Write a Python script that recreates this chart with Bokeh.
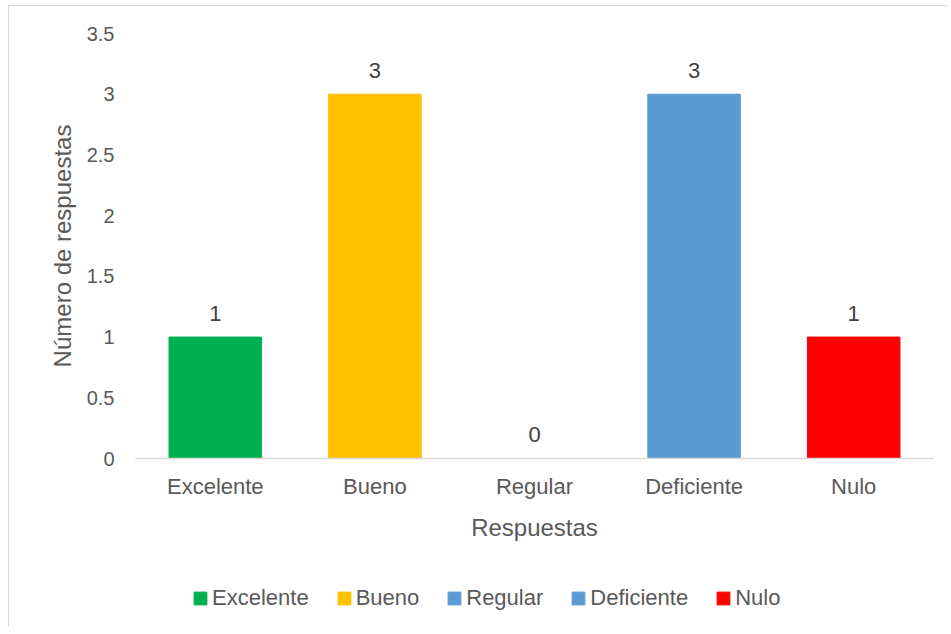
from bokeh.plotting import figure
from bokeh.models import ColumnDataSource, Legend, LegendItem, FactorRange, Range1d
from bokeh.layouts import column
from bokeh.core.properties import value
from bokeh.embed import file_html
from bokeh.resources import INLINE

categories = ["Excelente", "Bueno", "Regular", "Deficiente", "Nulo"]
counts = [1, 3, 0, 3, 1]
colors = ["#00B050", "#FFC000", "#5B9BD5", "#5B9BD5", "#FF0000"]
y_ticks = [0, 0.5, 1, 1.5, 2, 2.5, 3, 3.5]

FONT = "Liberation Sans"
TXT = "#595959"

src = ColumnDataSource(dict(cat=categories, val=counts, color=colors,
                            lab=[str(v) for v in counts]))

xr = FactorRange(*categories, range_padding=0)
p = figure(x_range=xr, y_range=(0, 3.5),
           width=938, height=560, output_backend="svg", toolbar_location=None,
           min_border_left=126, min_border_right=14, min_border_top=27, min_border_bottom=108)
p.outline_line_color = None
p.xgrid.grid_line_color = None
p.ygrid.grid_line_color = None

r = p.vbar(x="cat", top="val", width=0.58, color="color", source=src)

p.text(x="cat", y="val", text="lab", source=src, y_offset=-24,
       text_align="center", text_baseline="middle", text_color="#404040",
       text_font=value(FONT), text_font_size="22px")

p.yaxis.ticker = y_ticks
p.yaxis.axis_line_color = None
p.yaxis.major_tick_line_color = None
p.yaxis.minor_tick_line_color = None
p.yaxis.major_label_standoff = 15
p.yaxis.major_label_text_font = FONT
p.yaxis.major_label_text_font_size = "20px"
p.yaxis.major_label_text_color = TXT
p.yaxis.axis_label = "Número de respuestas"
p.yaxis.axis_label_text_font = FONT
p.yaxis.axis_label_text_font_size = "24px"
p.yaxis.axis_label_text_font_style = "normal"
p.yaxis.axis_label_text_color = TXT
p.yaxis.axis_label_standoff = 8

p.xaxis.axis_line_color = "#D9D9D9"
p.xaxis.axis_line_width = 1.5
p.xaxis.major_tick_line_color = None
p.xaxis.minor_tick_line_color = None
p.xaxis.major_label_standoff = 9
p.xaxis.major_label_text_font = FONT
p.xaxis.major_label_text_font_size = "22px"
p.xaxis.major_label_text_color = TXT
p.xaxis.axis_label = "Respuestas"
p.xaxis.axis_label_text_font = FONT
p.xaxis.axis_label_text_font_size = "24px"
p.xaxis.axis_label_text_font_style = "normal"
p.xaxis.axis_label_text_color = TXT
p.xaxis.axis_label_standoff = 12

# legend strip: same data, bars fall outside its (empty) y range so only the legend shows
p2 = figure(x_range=xr, y_range=Range1d(10, 11), width=938, height=60,
            output_backend="svg", toolbar_location=None, min_border=0)
p2.axis.visible = False
p2.xgrid.grid_line_color = None
p2.ygrid.grid_line_color = None
p2.outline_line_color = None
r2 = p2.vbar(x="cat", top="val", width=0.58, color="color", source=src)

items = [LegendItem(label=c, renderers=[r2], index=i) for i, c in enumerate(categories)]
legend = Legend(items=items, orientation="horizontal", location=(57, 15),
                glyph_width=16, glyph_height=16, label_standoff=4, spacing=27,
                label_text_font=FONT, label_text_font_size="22px", label_text_color=TXT,
                border_line_color=None, background_fill_alpha=0, padding=0, margin=0)
p2.add_layout(legend, "center")

layout = column(p, p2, spacing=0)
layout.styles = {"border-left": "1px solid #d9d9d9", "border-top": "1px solid #d9d9d9",
                 "margin-left": "8px", "margin-top": "5px"}

open("out.html", "w").write(file_html(layout, INLINE))
